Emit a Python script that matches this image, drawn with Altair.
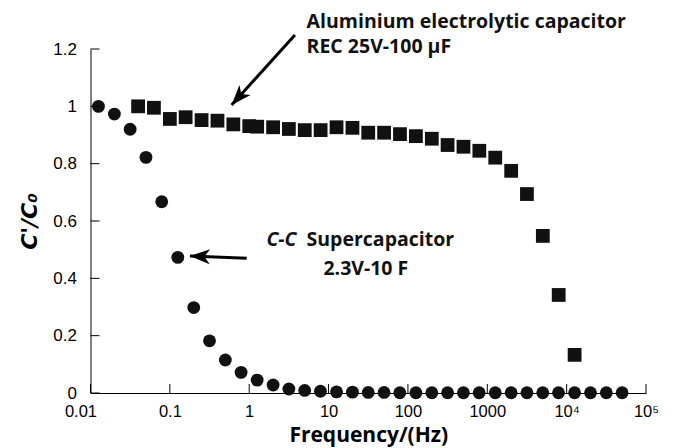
import altair as alt
import pandas as pd

# C-C supercapacitor 2.3V-10F (circles)
sc_freq = [0.0126, 0.02, 0.0316, 0.05, 0.079, 0.126, 0.2, 0.316, 0.5, 0.79,
           1.26, 2.0, 3.16, 5.0, 7.9, 12.6, 20, 31.6, 50, 79,
           126, 200, 316, 500, 790, 1260, 2000, 3160, 5000, 7900,
           12600, 20000, 31600, 50000]
sc_ratio = [1.0, 0.973, 0.92, 0.822, 0.667, 0.473, 0.298, 0.182, 0.115, 0.072,
            0.045, 0.028, 0.014, 0.009, 0.006, 0.004, 0.003, 0.002, 0.002, 0.001,
            0.001, 0.001, 0.001, 0.001, 0.001, 0.001, 0.001, 0.001, 0.001, 0.001,
            0.001, 0.001, 0.001, 0.001]

# Aluminium electrolytic capacitor REC 25V-100uF (squares)
al_freq = [0.0398, 0.063, 0.1, 0.158, 0.251, 0.398, 0.631, 1.0, 1.26, 2.0,
           3.16, 5.01, 7.94, 12.6, 20, 31.6, 50.1, 79.4, 126, 200,
           316, 501, 794, 1260, 2000, 3160, 5010, 7940, 12600]
al_ratio = [1.0, 0.995, 0.956, 0.962, 0.952, 0.950, 0.937, 0.931, 0.929, 0.927,
            0.921, 0.917, 0.917, 0.927, 0.925, 0.908, 0.908, 0.903, 0.896, 0.887,
            0.865, 0.859, 0.845, 0.821, 0.775, 0.694, 0.548, 0.342, 0.133]

x_ticks = [0.01, 0.1, 1, 10, 100, 1000, 10000, 100000]
y_ticks = [0, 0.2, 0.4, 0.6, 0.8, 1.0, 1.2]

# annotations (data coordinates)
arrow_tail_f = [3.77, 0.93]
arrow_tail_r = [1.249, 0.470]
arrow_tip_f = [0.60, 0.179]
arrow_tip_r = [1.005, 0.478]

label1_lines = ["Aluminium electrolytic capacitor", "REC 25V-100 μF"]
label1_f = [5.28, 5.28]
label1_r = [1.294, 1.207]

label2a_text = ["C-C"]
label2a_f = [3.95]
label2a_r = [0.534]
label2b_text = ["Supercapacitor"]
label2b_f = [5.28]
label2b_r = [0.534]
label2c_text = ["2.3V-10 F"]
label2c_f = [29.5]
label2c_r = [0.432]

W, H = 555.5, 344
INK = "#111111"
COMIC = "Open Sans"

sc = pd.DataFrame({"f": sc_freq, "r": sc_ratio})
al = pd.DataFrame({"f": al_freq, "r": al_ratio})
xt = pd.DataFrame({"f": x_ticks})
yt = pd.DataFrame({"r": y_ticks})
arrows = pd.DataFrame({"f": arrow_tail_f, "r": arrow_tail_r,
                       "f2": arrow_tip_f, "r2": arrow_tip_r})

xscale = alt.Scale(type="log", domain=[0.01, 100000])
yscale = alt.Scale(domain=[0, 1.2], nice=False)

label_expr = ("datum.value >= 100000 ? '10⁵' : (datum.value >= 10000 ? '10⁴' : "
              "format(datum.value, '~g'))")

x_enc = alt.X("f:Q", scale=xscale, axis=alt.Axis(
    values=x_ticks, labelExpr=label_expr, ticks=False, tickSize=0, grid=False,
    domainColor="black", domainWidth=1, labelFont="Liberation Sans", labelFontSize=16.5,
    labelColor="black", labelPadding=10, labelFlush=False,
    labelOffset={"condition": {"test": "datum.value == 0.01", "value": -10}, "value": 0},
    title="Frequency/(Hz)", titleFont=COMIC, titleFontSize=21, titleFontWeight="bold",
    titleColor="black", titlePadding=5))
y_enc = alt.Y("r:Q", scale=yscale, axis=alt.Axis(
    values=y_ticks, format="~g", ticks=False, tickSize=0, grid=False,
    domainColor="black", domainWidth=1, labelFont="Liberation Sans", labelFontSize=17,
    labelColor="black", labelPadding=14, title="C'/C₀", titleFont="DejaVu Sans",
    titleFontSize=22, titleFontWeight="bold", titleFontStyle="italic",
    titleColor="black", titlePadding=11))

base_x = alt.X("f:Q", scale=xscale)
base_y = alt.Y("r:Q", scale=yscale)

x_tick_marks = alt.Chart(xt).mark_rule(color="black", strokeWidth=1).encode(
    x=base_x, y=alt.value(H), y2=alt.value(H - 9))
y_tick_marks = alt.Chart(yt).mark_rule(color="black", strokeWidth=1).encode(
    y=base_y, x=alt.value(0), x2=alt.value(9))

circles = alt.Chart(sc).mark_point(shape="circle", filled=True, size=165,
                                   color=INK, opacity=1).encode(x=x_enc, y=y_enc)
squares = alt.Chart(al).mark_point(shape="square", filled=True, size=190,
                                   color=INK, opacity=1).encode(x=base_x, y=base_y)

arrow_lines = alt.Chart(arrows).mark_rule(color="black", strokeWidth=3).encode(
    x=base_x, y=base_y, x2="f2:Q", y2="r2:Q")

head_path = "M0,0 L-2,-0.75 L-1.45,0 L-2,0.75 Z"
head1 = alt.Chart(arrows.iloc[[0]]).mark_point(
    shape=head_path, filled=True, size=400, angle=132, color="black", opacity=1
).encode(x=alt.X("f2:Q", scale=xscale), y=alt.Y("r2:Q", scale=yscale))
head2 = alt.Chart(arrows.iloc[[1]]).mark_point(
    shape=head_path, filled=True, size=400, angle=182, color="black", opacity=1
).encode(x=alt.X("f2:Q", scale=xscale), y=alt.Y("r2:Q", scale=yscale))

t1 = alt.Chart(pd.DataFrame({"f": label1_f, "r": label1_r, "t": label1_lines})).mark_text(
    align="left", baseline="middle", font=COMIC, fontSize=19.5, fontWeight="bold", color=INK
).encode(x=base_x, y=base_y, text="t:N")
t2a = alt.Chart(pd.DataFrame({"f": label2a_f, "r": label2a_r, "t": label2a_text})).mark_text(
    align="right", baseline="middle", font=COMIC, fontSize=19.5, fontWeight="bold",
    fontStyle="italic", color=INK
).encode(x=base_x, y=base_y, text="t:N")
t2b = alt.Chart(pd.DataFrame({"f": label2b_f, "r": label2b_r, "t": label2b_text})).mark_text(
    align="left", baseline="middle", font=COMIC, fontSize=19.5, fontWeight="bold", color=INK
).encode(x=base_x, y=base_y, text="t:N")
t2c = alt.Chart(pd.DataFrame({"f": label2c_f, "r": label2c_r, "t": label2c_text})).mark_text(
    align="center", baseline="middle", font=COMIC, fontSize=19.5, fontWeight="bold", color=INK
).encode(x=base_x, y=base_y, text="t:N")

chart = alt.layer(
    circles, squares, x_tick_marks, y_tick_marks, arrow_lines, head1, head2,
    t1, t2a, t2b, t2c
).properties(
    width=W, height=H,
    autosize=alt.AutoSizeParams(type="none"),
    padding={"left": 82.5, "top": 41, "right": 20, "bottom": 55},
    background="white",
).configure_view(stroke=None)

chart.save("out.html", embed_options={"renderer": "svg", "actions": False})
